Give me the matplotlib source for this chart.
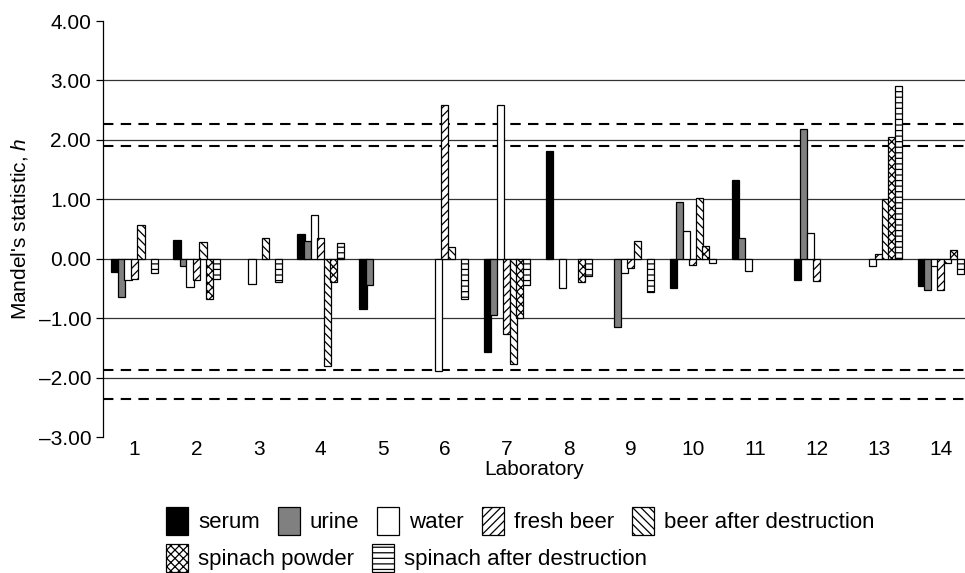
import numpy as np
import matplotlib
matplotlib.use("Agg")
import matplotlib.pyplot as plt

plt.rcParams['font.family'] = ['Liberation Sans', 'DejaVu Sans']
plt.rcParams['mathtext.fontset'] = 'custom'
plt.rcParams['mathtext.rm'] = 'Liberation Sans'
plt.rcParams['mathtext.it'] = 'Liberation Sans:italic'
plt.rcParams['hatch.linewidth'] = 0.9

nan = np.nan

# 数据 (每个实验室 7 种样品的 h 值, nan = 无数据)
labs = np.arange(1, 15)
serum = [-0.22, 0.32, nan, 0.42, -0.85, nan, -1.57, 1.81, nan, -0.50, 1.32, -0.35, nan, -0.46]
urine = [-0.64, -0.13, nan, 0.30, -0.45, nan, -0.94, nan, -1.15, 0.95, 0.35, 2.19, nan, -0.53]
water = [-0.36, -0.48, -0.42, 0.73, nan, -1.89, 2.58, -0.49, -0.24, 0.46, -0.20, 0.43, -0.12, -0.12]
fresh_beer = [-0.34, -0.36, nan, 0.35, nan, 2.58, -1.27, nan, -0.15, -0.10, nan, -0.37, 0.08, -0.52]
beer_after = [0.57, 0.28, 0.35, -1.80, nan, 0.19, -1.77, nan, 0.30, 1.02, nan, nan, 1.00, -0.07]
spinach_powder = [nan, -0.68, nan, -0.39, nan, nan, -0.99, -0.40, nan, 0.21, nan, nan, 2.05, 0.14]
spinach_after = [-0.24, -0.34, -0.39, 0.27, nan, -0.67, -0.44, -0.29, -0.56, -0.08, nan, nan, 2.90, -0.26]

series = [serum, urine, water, fresh_beer, beer_after, spinach_powder, spinach_after]
names = ['serum', 'urine', 'water', 'fresh beer', 'beer after destruction',
         'spinach powder', 'spinach after destruction']
faces = ['black', '#808080', 'white', 'white', 'white', 'white', 'white']
hatches = [None, None, None, '////', '\\\\\\\\', 'xxxx', '---']

# 临界值 (虚线)
crit_lines = [2.27, 1.89, -1.88, -2.36]
grid_lines = [-2, -1, 0, 1, 2, 3]
yticks = np.arange(-3, 5)

fig = plt.figure(figsize=(9.65, 5.73), dpi=100)
ax = fig.add_axes([103 / 965, 1 - 437 / 573, 1 - 103 / 965, (437 - 21) / 573])

for y in grid_lines:
    ax.axhline(y, color='#333333', lw=0.9, zorder=1)
for y in crit_lines:
    ax.axhline(y, color='black', lw=1.5, ls=(0, (5, 3.5)), zorder=1)

step = 0.105
width = 0.118
handles = []
for i, vals in enumerate(series):
    b = ax.bar(labs + (i - 3) * step, vals, width, color=faces[i], edgecolor='black',
               linewidth=0.9, hatch=hatches[i], zorder=3, label=names[i])
    handles.append(b)

ax.set_xlim(0.49, 14.39)
ax.set_ylim(-3, 4)
ax.set_yticks(yticks)
ax.set_yticklabels([('%.2f' % v).replace('-', '\u2013') for v in yticks])
ax.set_xticks(labs)
ax.tick_params(axis='x', length=0, pad=2, labelsize=15)
ax.tick_params(axis='y', length=5, width=0.9, labelsize=15, direction='out')
for s in ['top', 'right', 'bottom']:
    ax.spines[s].set_visible(False)
ax.spines['left'].set_linewidth(0.9)

ax.set_xlabel('Laboratory', fontsize=15, labelpad=1)
ax.set_ylabel("Mandel's statistic, $h$", fontsize=15, labelpad=6)

leg_kw = dict(frameon=False, fontsize=16, handlelength=1.0, handleheight=1.55,
              handletextpad=0.45, columnspacing=0.8, borderpad=0, borderaxespad=0,
              loc='upper left')
fig.legend(handles[:5], names[:5], ncol=5,
           bbox_to_anchor=(166 / 965, 1 - 507 / 573), **leg_kw)
fig.legend(handles[5:], names[5:], ncol=2,
           bbox_to_anchor=(166 / 965, 1 - 544 / 573), **leg_kw)

fig.savefig('out.png', dpi=100)
